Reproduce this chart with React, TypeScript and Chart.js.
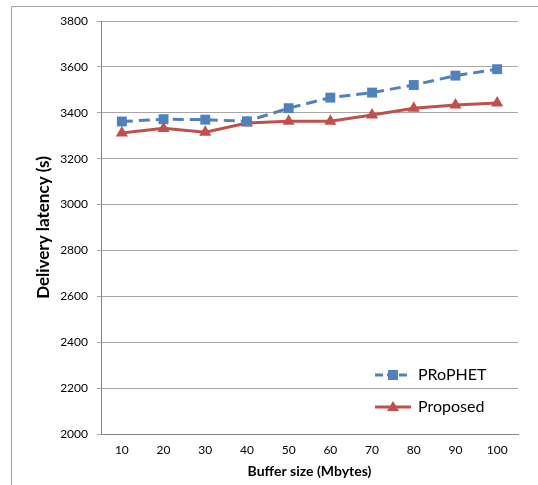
import React, { useEffect, useRef } from "react";
import { Chart, registerables } from "chart.js";

Chart.register(...registerables);

const categories = ["10", "20", "30", "40", "50", "60", "70", "80", "90", "100"];
const prophet = [3362, 3372, 3370, 3363, 3420, 3466, 3488, 3521, 3562, 3590];
const proposed = [3312, 3332, 3315, 3355, 3363, 3363, 3390, 3420, 3434, 3443];
const seriesNames = ["PRoPHET", "Proposed"];
const yMin = 2000;
const yMax = 3800;
const yStep = 200;

const BLUE = "#4F81BD";
const RED = "#C0504D";
const FONT = "Lato, 'Open Sans', sans-serif";

const legendPlugin = {
  id: "insideLegend",
  afterDraw(chart: any) {
    const ctx = chart.ctx;
    const items = [
      { name: seriesNames[0], color: BLUE, dash: [8, 4], style: "rect", y: 375 },
      { name: seriesNames[1], color: RED, dash: [], style: "triangle", y: 407 },
    ];
    ctx.save();
    items.forEach((it) => {
      ctx.strokeStyle = it.color;
      ctx.lineWidth = 3;
      ctx.setLineDash(it.dash);
      ctx.beginPath();
      ctx.moveTo(375, it.y);
      ctx.lineTo(411, it.y);
      ctx.stroke();
      ctx.setLineDash([]);
      ctx.fillStyle = it.color;
      if (it.style === "rect") {
        ctx.fillRect(388, it.y - 5, 10, 10);
      } else {
        ctx.beginPath();
        ctx.moveTo(393, it.y - 6);
        ctx.lineTo(399, it.y + 4);
        ctx.lineTo(387, it.y + 4);
        ctx.closePath();
        ctx.fill();
      }
      ctx.fillStyle = "#000";
      ctx.font = "16px " + FONT;
      ctx.textBaseline = "middle";
      ctx.textAlign = "left";
      ctx.fillText(it.name, 418, it.y);
    });
    ctx.restore();
  },
};

const framePlugin = {
  id: "frame",
  beforeDraw(chart: any) {
    const ctx = chart.ctx;
    ctx.save();
    ctx.strokeStyle = "#a6a6a6";
    ctx.lineWidth = 1;
    ctx.beginPath();
    ctx.moveTo(11.5, 485);
    ctx.lineTo(11.5, 6.5);
    ctx.lineTo(538, 6.5);
    ctx.stroke();
    ctx.restore();
  },
};

export default function App() {
  const ref = useRef<HTMLCanvasElement>(null);
  useEffect(() => {
    if (!ref.current) return;
    const chart = new Chart(ref.current, {
      type: "line",
      data: {
        labels: categories,
        datasets: [
          {
            label: seriesNames[0],
            data: prophet,
            borderColor: BLUE,
            backgroundColor: BLUE,
            borderWidth: 3,
            borderDash: [11, 6],
            pointStyle: "rect",
            pointRadius: 7,
            pointHoverRadius: 7,
            pointBorderWidth: 0,
            tension: 0,
          },
          {
            label: seriesNames[1],
            data: proposed,
            borderColor: RED,
            backgroundColor: RED,
            borderWidth: 3,
            pointStyle: "triangle",
            pointRadius: 7,
            pointHoverRadius: 7,
            pointBorderWidth: 0,
            tension: 0,
          },
        ],
      },
      options: {
        animation: false,
        responsive: false,
        layout: { padding: { top: 21, right: 20, left: 0, bottom: 0 } },
        plugins: { legend: { display: false }, tooltip: { enabled: false } },
        scales: {
          x: {
            offset: true,
            grid: { display: false, drawTicks: false },
            border: { display: true, color: "#868686", width: 1 },
            ticks: { color: "#000", padding: 9, font: { family: FONT, size: 12 } },
            title: {
              display: true,
              text: "Buffer size (Mbytes)",
              color: "#000",
              font: { family: FONT, size: 14, weight: "bold" },
              padding: { top: 0, bottom: 5 },
            },
            afterFit: (s: any) => {
              s.height = 51;
            },
          },
          y: {
            min: yMin,
            max: yMax,
            grid: { color: "#a6a6a6", tickLength: 4, drawTicks: true },
            border: { display: true, color: "#868686", width: 1 },
            ticks: {
              stepSize: yStep,
              color: "#000",
              padding: 9,
              font: { family: FONT, size: 12 },
              callback: (v: any) => String(v),
            },
            title: {
              display: true,
              text: "Delivery latency (s)",
              color: "#000",
              font: { family: FONT, size: 17, weight: "bold" },
              padding: { top: 33, bottom: 0 },
            },
            afterFit: (s: any) => {
              s.width = 101;
            },
          },
        },
      },
      plugins: [framePlugin, legendPlugin],
    });
    return () => chart.destroy();
  }, []);
  return (
    <div style={{ position: "fixed", left: 0, top: 0, width: 538, height: 485, background: "#fff" }}>
      <canvas ref={ref} width={538} height={485} style={{ display: "block" }} />
    </div>
  );
}
